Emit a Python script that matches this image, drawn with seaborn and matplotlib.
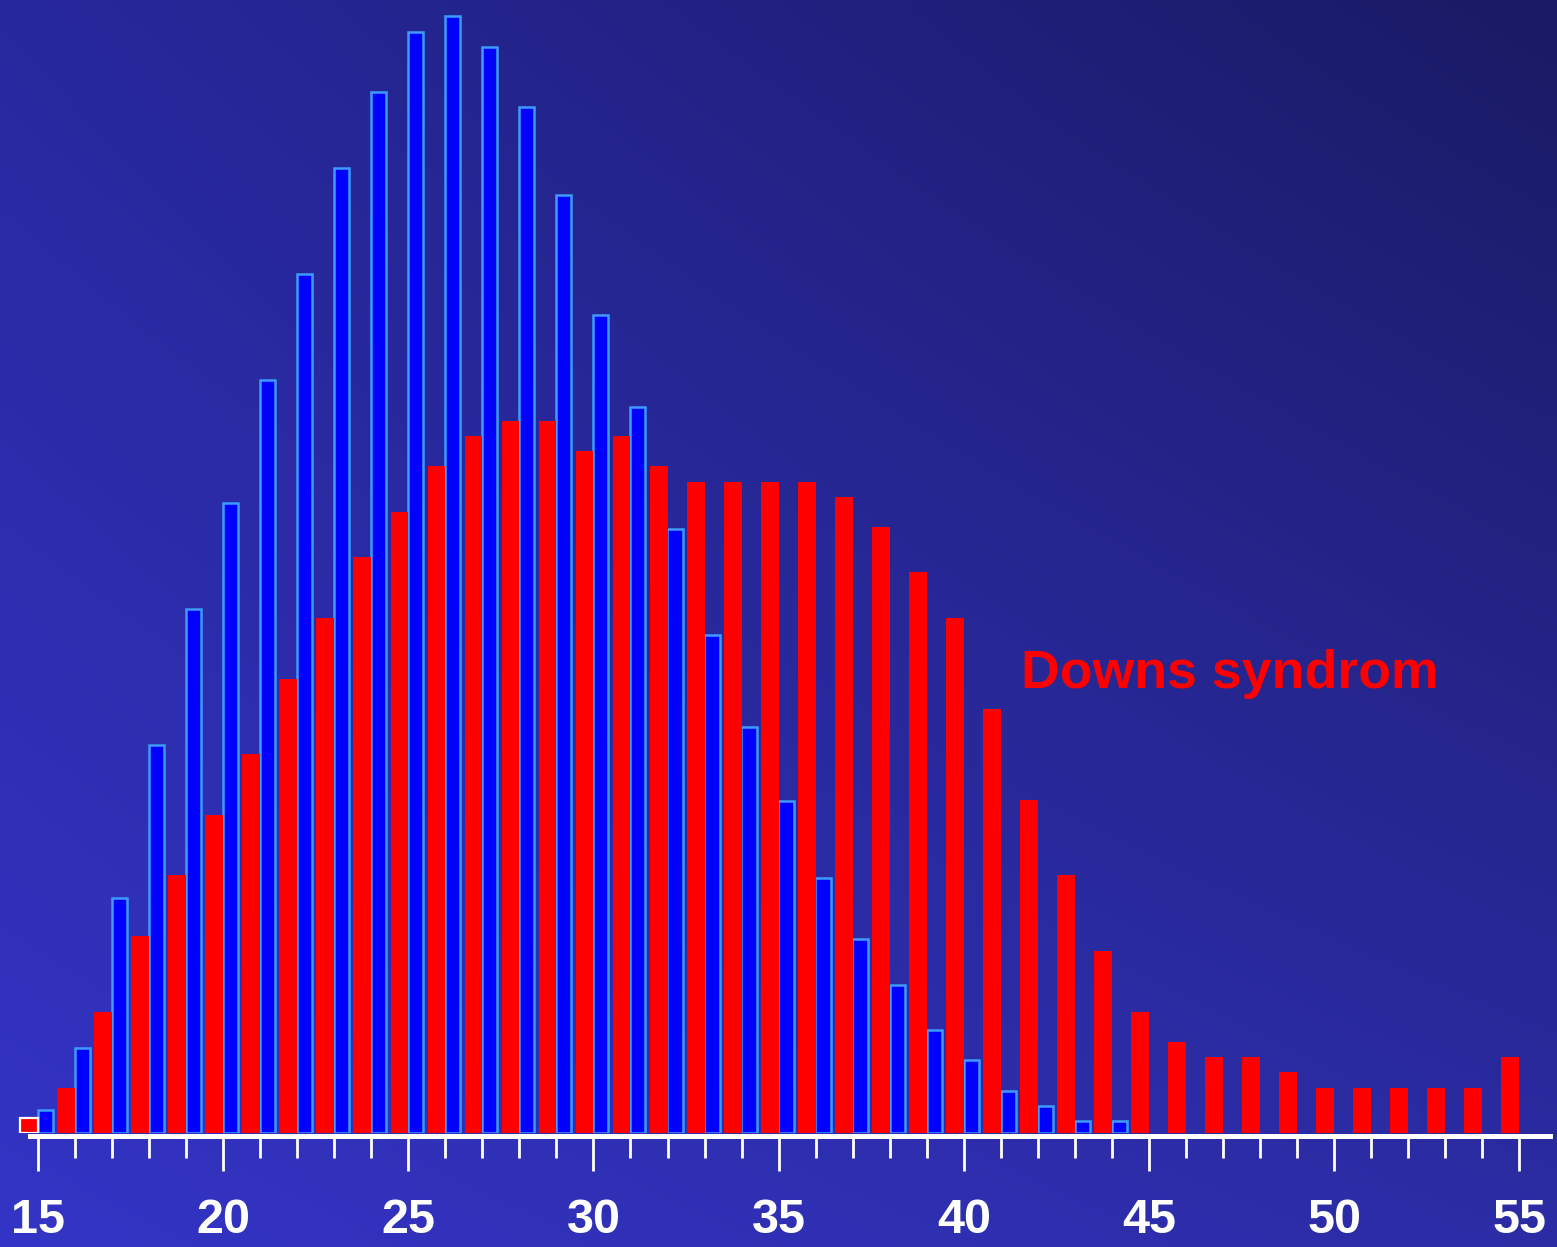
import numpy as np
import pandas as pd
import matplotlib
matplotlib.use("Agg")
import matplotlib.pyplot as plt
from matplotlib.ticker import FixedLocator
import seaborn as sns

# maternal age at the tick where each bar sits
red_ages = list(range(15, 56))
red_values = [1, 3, 8, 13, 17, 21, 25, 30, 34, 38, 41, 44, 46, 47, 47, 45, 46, 44,
              43, 43, 43, 43, 42, 40, 37, 34, 28, 22, 17, 12, 8, 6, 5, 5, 4, 3, 3,
              3, 3, 3, 5]
blue_ages = list(range(15, 45))
blue_values = [1.55, 5.6, 15.5, 25.6, 34.6, 41.6, 49.7, 56.7, 63.7, 68.7, 72.7, 73.7,
               71.7, 67.7, 61.9, 54.0, 47.9, 39.9, 32.9, 26.8, 21.9, 16.8, 12.8, 9.8,
               6.8, 4.8, 2.8, 1.8, 0.76, 0.76]
major_ticks = [15, 20, 25, 30, 35, 40, 45, 50, 55]
minor_ticks = list(range(15, 56))
label_text = "Downs syndrom"

red_df = pd.DataFrame({"pos": np.array(red_ages) - 0.24, "value": red_values})
blue_df = pd.DataFrame({"pos": np.array(blue_ages) + 0.2, "value": blue_values})

sns.set_theme(style="ticks")
plt.rcParams["font.family"] = ["Liberation Sans", "DejaVu Sans"]

W, H = 1557, 1247
fig = plt.figure(figsize=(W / 100, H / 100), dpi=100)

# gradient background (dark top right, lighter bottom left)
bg = fig.add_axes([0, 0, 1, 1], zorder=-1)
gy, gx = np.mgrid[0:1:250j, 0:1:312j]
tl = np.array([40, 40, 158])
tr = np.array([26, 26, 100])
bl = np.array([52, 52, 198])
br = np.array([44, 44, 165])
img = ((1 - gx)[..., None] * ((1 - gy)[..., None] * tl + gy[..., None] * bl)
       + gx[..., None] * ((1 - gy)[..., None] * tr + gy[..., None] * br)) / 255.0
bg.imshow(img, aspect="auto", interpolation="bilinear", extent=[0, 1, 1, 0])
bg.set_axis_off()

bottom = (H - 1133) / H
ax = fig.add_axes([0, bottom, 1, 1 - bottom])
ax.set_facecolor("none")

sns.barplot(data=blue_df, x="pos", y="value", native_scale=True, orient="x",
            width=0.41, color="#0000ff", saturation=1, errorbar=None,
            edgecolor="#3d9bff", linewidth=1.8, ax=ax)
sns.barplot(data=red_df, x="pos", y="value", native_scale=True, orient="x",
            width=0.48, color="#ff0000", saturation=1, errorbar=None,
            linewidth=0, ax=ax)
first_red = ax.containers[-1][0]
first_red.set_edgecolor("white")
first_red.set_linewidth(1.6)

ax.set_xlim((0 - 38) / 37.03 + 15, (W - 38) / 37.03 + 15)
ax.set_ylim(0, 1133 / 15.15)

for side in ["top", "left", "right"]:
    ax.spines[side].set_visible(False)
ax.spines["bottom"].set_color("white")
ax.spines["bottom"].set_linewidth(3.6)
ax.spines["bottom"].set_position(("outward", 2.5))
ax.spines["bottom"].set_bounds(14.78, 55.83)

ax.xaxis.set_major_locator(FixedLocator(major_ticks))
ax.xaxis.set_minor_locator(FixedLocator(minor_ticks))
ax.set_xticklabels([str(t) for t in major_ticks])
ax.tick_params(axis="x", which="major", direction="out", length=25.5, width=2,
               color="white", labelcolor="white", labelsize=35, pad=19)
ax.tick_params(axis="x", which="minor", direction="out", length=15.5, width=2,
               color="white")
for lab in ax.get_xticklabels():
    lab.set_fontweight("bold")
ax.set_yticks([])
ax.set_xlabel("")
ax.set_ylabel("")

ax.text(41.55, 29.4, label_text, color="#ff0000", fontsize=38.6, fontweight="bold",
        va="baseline", ha="left")

fig.savefig("out.png", dpi=100)
